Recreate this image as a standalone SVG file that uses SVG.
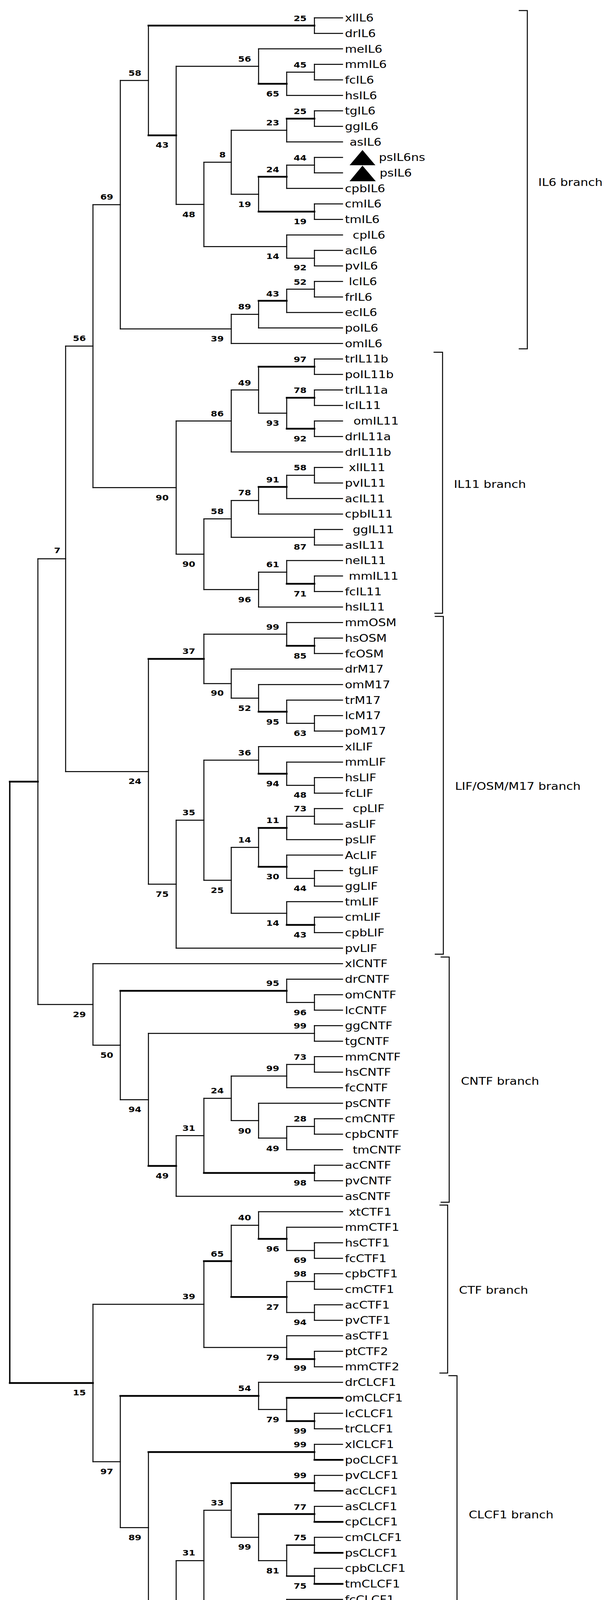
<svg xmlns="http://www.w3.org/2000/svg" width="1554" height="4266" viewBox="0 0 1554 4266">
<style>
.br{fill:none;stroke:#000;stroke-width:2.5;stroke-linecap:square}
.bt{fill:none;stroke:#000;stroke-width:4.5;stroke-linecap:square}
.bm{fill:none;stroke:#000;stroke-width:3.5;stroke-linecap:square}
.bk{fill:none;stroke:#000;stroke-width:2.5}
text{font-family:"DejaVu Sans",Verdana,sans-serif;fill:#000}
.lb{font-size:26px}
.bs{font-size:20px;font-weight:bold;text-anchor:end}
.cl{font-size:26px}
</style>
<rect width="1554" height="4266" fill="#fff"/>
<g id="connectors">
<path class="br" d="M805 45.7V85.4M805 164.8V204.5M734 184.65V244.2M662 125.1V214.4M805 283.8V323.5M734 303.65V363.2M805 402.9V442.6M734 422.75V482.3M805 522V561.7M662 452.5V541.85M592 333.4V497.2M805 641.1V680.8M734 601.4V660.95M522 415.3V631.2M451 169.75V523.25M380 65.55V346.5M805 720.5V760.2M734 740.35V799.9M662 770.1V839.5M592 804.8V879.2M308 206V842M238 524V1248.25M168 886.1V1975.15M97 1430.6V2571.4"/>
<path class="br" d="M805 45.7H877M805 85.4H877M662 125.1H877M805 164.8H877M805 204.5H877M734 244.2H877M805 283.8H877M805 323.5H877M734 363.2H877M805 402.9H877M805 442.6H877M734 482.3H877M805 522H877M805 561.7H877M734 601.4H877M805 641.1H877M805 680.8H877M805 720.5H877M805 760.2H877M734 799.9H877M662 839.5H877M592 879.2H877"/>
<path class="br" d="M734 184.65H805M451 169.75H662M592 333.4H734M734 422.75H805M592 497.2H662M522 415.3H592M734 660.95H805M522 631.2H734M451 523.25H522M308 206H380M734 740.35H805M592 804.8H662M308 842H592M238 524H308"/>
<path class="bt" d="M380 65.55H805M662 214.4H734M734 303.65H805M662 452.5H734M662 541.85H805M380 346.5H451M662 770.1H734"/>
<path class="br" d="M805 918.9V958.6M805 998.3V1038M805 1077.7V1117.4M734 1018.15V1097.55M662 938.75V1057.85M592 998.3V1157.1M805 1196.8V1236.5M734 1216.65V1276.2M662 1246.4V1315.9M805 1355.6V1395.3M592 1281.15V1375.45M805 1474.6V1514.3M734 1434.9V1494.45M662 1464.7V1554M522 1328.3V1509.35M451 1077.7V1418.8"/>
<path class="br" d="M805 918.9H877M805 958.6H877M805 998.3H877M805 1038H877M805 1077.7H877M805 1117.4H877M592 1157.1H877M805 1196.8H877M805 1236.5H877M734 1276.2H877M662 1315.9H877M805 1355.6H877M805 1395.3H877M734 1434.9H877M805 1474.6H877M805 1514.3H877M662 1554H877"/>
<path class="br" d="M662 1057.85H734M592 998.3H662M451 1077.7H592M734 1216.65H805M592 1281.15H662M592 1375.45H805M522 1328.3H592M662 1464.7H734M522 1509.35H662M451 1418.8H522M238 1248.25H451M168 886.1H238"/>
<path class="bt" d="M662 938.75H805M734 1018.15H805M734 1097.55H805M662 1246.4H734M734 1494.45H805"/>
<path class="br" d="M805 1633.4V1673.1M734 1593.7V1653.25M805 1831.9V1871.6M734 1792.2V1851.75M662 1752.5V1821.95M592 1712.8V1787.2M522 1623.5V1750M805 1990.7V2030.4M734 1951V2010.55M662 1911.3V1980.8M805 2070V2109.7M734 2089.85V2149.4M805 2228.8V2268.5M734 2189.1V2248.65M662 2119.6V2218.9M805 2347.9V2387.6M734 2308.2V2367.75M592 2169.25V2337.95M522 1946.05V2253.6M451 2099.8V2427.3M380 1686.75V2263.55"/>
<path class="br" d="M734 1593.7H877M805 1633.4H877M805 1673.1H877M592 1712.8H877M662 1752.5H877M734 1792.2H877M805 1831.9H877M805 1871.6H877M662 1911.3H877M734 1951H877M805 1990.7H877M805 2030.4H877M805 2070H877M805 2109.7H877M734 2149.4H877M734 2189.1H877M805 2228.8H877M805 2268.5H877M734 2308.2H877M805 2347.9H877M805 2387.6H877M451 2427.3H877"/>
<path class="br" d="M522 1623.5H734M734 1851.75H805M592 1787.2H662M522 1750H592M734 2010.55H805M522 1946.05H662M734 2089.85H805M734 2248.65H805M592 2169.25H662M592 2337.95H734M522 2253.6H592M451 2099.8H522M380 2263.55H451M168 1975.15H380M97 1430.6H168"/>
<path class="bt" d="M734 1653.25H805M662 1821.95H734M380 1686.75H522M662 1980.8H734M662 2119.6H734M662 2218.9H734M734 2367.75H805M25 2001H97"/>
<path class="br" d="M805 2546.4V2586.1M734 2506.7V2566.25M805 2625.8V2665.4M805 2705.1V2744.8M734 2724.95V2784.5M805 2863.9V2903.6M734 2883.75V2943.3M662 2824.2V2913.5M592 2754.7V2868.85M805 2983V3022.7M522 2811.8V3002.85M451 2907.3V3062.4M380 2645.6V2984.85M308 2536.5V2815.2M238 2467V2675.85"/>
<path class="br" d="M238 2467H877M734 2506.7H877M805 2546.4H877M805 2586.1H877M805 2625.8H877M805 2665.4H877M805 2705.1H877M805 2744.8H877M734 2784.5H877M662 2824.2H877M805 2863.9H877M805 2903.6H877M734 2943.3H877M805 2983H877M805 3022.7H877M451 3062.4H877"/>
<path class="br" d="M734 2566.25H805M380 2645.6H805M734 2724.95H805M592 2754.7H734M734 2883.75H805M662 2913.5H734M592 2868.85H662M522 2811.8H592M451 2907.3H522M308 2815.2H380M238 2675.85H308M97 2571.4H238"/>
<path class="bt" d="M308 2536.5H734M522 3002.85H805M380 2984.85H451"/>
<path class="br" d="M805 3181.5V3221.2M734 3141.8V3201.35M662 3102.1V3171.6M805 3260.8V3300.5M805 3340.2V3379.9M734 3280.65V3360.05M592 3136.85V3320.35M805 3459.3V3499M734 3419.6V3479.15M522 3228.6V3449.4M238 3339V3742.1"/>
<path class="br" d="M662 3102.1H877M734 3141.8H877M805 3181.5H877M805 3221.2H877M805 3260.8H877M805 3300.5H877M805 3340.2H877M805 3379.9H877M734 3419.6H877M805 3459.3H877M805 3499H877"/>
<path class="br" d="M734 3201.35H805M592 3136.85H662M734 3280.65H805M734 3360.05H805M522 3449.4H734M238 3339H522"/>
<path class="bt" d="M662 3171.6H734M592 3320.35H734M522 3228.6H592M734 3479.15H805M25 3540.55H238"/>
<path class="br" d="M805 3618.1V3657.8M734 3578.4V3637.95M662 3538.7V3608.2M805 3697.5V3737.2M805 3776.9V3816.5M805 3856.2V3895.9M805 3935.6V3975.3M805 4015V4054.7M734 3955.45V4034.85M662 3876.05V3995.15M592 3796.7V3935.6M805 4134.1V4173.8M734 4094.4V4153.95M522 3866.15V4124.15M451 3995.15V4213.5M380 3717.35V4104.3M308 3573.45V3910.8"/>
<path class="br" d="M662 3538.7H877M805 3618.1H877M805 3657.8H877M805 3697.5H877M805 3776.9H877M805 3856.2H877M805 3935.6H877M805 4015H877M734 4094.4H877M805 4173.8H877"/>
<path class="bt" d="M734 3578.4H877M805 3737.2H877M805 3895.9H877M805 3975.3H877M805 4054.7H877M805 4134.1H877M451 4213.5H877"/>
<path class="bm" d="M805 3816.5H877M734 3955.45H805M734 4034.85H805"/>
<path class="br" d="M662 3608.2H734M662 3995.15H734M592 3935.6H662M522 3866.15H592M734 4153.95H805M451 3995.15H522M380 4104.3H451M308 3910.8H380M238 3742.1H308"/>
<path class="bt" d="M734 3637.95H805M308 3573.45H662M380 3717.35H805M592 3796.7H805M662 3876.05H805M522 4124.15H734"/>
<path class="bm" d="M25 2001V3540.55"/>
</g>
<g id="brackets">
<path class="bk" d="M1328 27H1350V893H1328"/>
<path class="bk" d="M1110 901.7H1133V1570H1112"/>
<path class="bk" d="M1113 1578H1135V2442.7H1113"/>
<path class="bk" d="M1128 2450H1150V3077.7H1128"/>
<path class="bk" d="M1125 3085H1146V3515H1125"/>
<path class="bk" d="M1148 3521.7H1170V4230H1148"/>
</g>
<g id="markers">
<polygon points="928,384 895,423 961,423" fill="#000"/>
<polygon points="928,424 895,464 962,464" fill="#000"/>
</g>
<g transform="scale(1.2,1)">
<g id="leaves" class="lb">
<g id="leaf-xlIL6"><text x="735.8" y="55.2">xlIL6</text></g>
<g id="leaf-drIL6"><text x="735.8" y="94.9">drIL6</text></g>
<g id="leaf-meIL6"><text x="735.8" y="134.6">meIL6</text></g>
<g id="leaf-mmIL6"><text x="735.8" y="174.3">mmIL6</text></g>
<g id="leaf-fcIL6"><text x="735.8" y="214">fcIL6</text></g>
<g id="leaf-hsIL6"><text x="735.8" y="253.7">hsIL6</text></g>
<g id="leaf-tgIL6"><text x="735.8" y="293.3">tgIL6</text></g>
<g id="leaf-ggIL6"><text x="735.8" y="333">ggIL6</text></g>
<g id="leaf-asIL6"><text x="745.8" y="372.7">asIL6</text></g>
<g id="leaf-psIL6ns"><text x="808.3" y="412.4">psIL6ns</text></g>
<g id="leaf-psIL6"><text x="810" y="452.1">psIL6</text></g>
<g id="leaf-cpbIL6"><text x="735.8" y="491.8">cpbIL6</text></g>
<g id="leaf-cmIL6"><text x="735.8" y="531.5">cmIL6</text></g>
<g id="leaf-tmIL6"><text x="735.8" y="571.2">tmIL6</text></g>
<g id="leaf-cpIL6"><text x="752.5" y="610.9">cpIL6</text></g>
<g id="leaf-acIL6"><text x="735.8" y="650.6">acIL6</text></g>
<g id="leaf-pvIL6"><text x="735.8" y="690.3">pvIL6</text></g>
<g id="leaf-lcIL6"><text x="744.2" y="730">lcIL6</text></g>
<g id="leaf-frIL6"><text x="735.8" y="769.7">frIL6</text></g>
<g id="leaf-ecIL6"><text x="735.8" y="809.4">ecIL6</text></g>
<g id="leaf-poIL6"><text x="735.8" y="849">poIL6</text></g>
<g id="leaf-omIL6"><text x="735.8" y="888.7">omIL6</text></g>
<g id="leaf-trIL11b"><text x="735.8" y="928.4">trIL11b</text></g>
<g id="leaf-poIL11b"><text x="735.8" y="968.1">poIL11b</text></g>
<g id="leaf-trIL11a"><text x="735.8" y="1007.8">trIL11a</text></g>
<g id="leaf-lcIL11"><text x="735.8" y="1047.5">lcIL11</text></g>
<g id="leaf-omIL11"><text x="754.2" y="1087.2">omIL11</text></g>
<g id="leaf-drIL11a"><text x="735.8" y="1126.9">drIL11a</text></g>
<g id="leaf-drIL11b"><text x="735.8" y="1166.6">drIL11b</text></g>
<g id="leaf-xlIL11"><text x="744.2" y="1206.3">xlIL11</text></g>
<g id="leaf-pvIL11"><text x="735.8" y="1246">pvIL11</text></g>
<g id="leaf-acIL11"><text x="735.8" y="1285.7">acIL11</text></g>
<g id="leaf-cpbIL11"><text x="735.8" y="1325.4">cpbIL11</text></g>
<g id="leaf-ggIL11"><text x="752.5" y="1365.1">ggIL11</text></g>
<g id="leaf-asIL11"><text x="735.8" y="1404.8">asIL11</text></g>
<g id="leaf-neIL11"><text x="735.8" y="1444.4">neIL11</text></g>
<g id="leaf-mmIL11"><text x="744.2" y="1484.1">mmIL11</text></g>
<g id="leaf-fcIL11"><text x="735.8" y="1523.8">fcIL11</text></g>
<g id="leaf-hsIL11"><text x="735.8" y="1563.5">hsIL11</text></g>
<g id="leaf-mmOSM"><text x="735.8" y="1603.2">mmOSM</text></g>
<g id="leaf-hsOSM"><text x="735.8" y="1642.9">hsOSM</text></g>
<g id="leaf-fcOSM"><text x="735.8" y="1682.6">fcOSM</text></g>
<g id="leaf-drM17"><text x="735.8" y="1722.3">drM17</text></g>
<g id="leaf-omM17"><text x="735.8" y="1762">omM17</text></g>
<g id="leaf-trM17"><text x="735.8" y="1801.7">trM17</text></g>
<g id="leaf-lcM17"><text x="735.8" y="1841.4">lcM17</text></g>
<g id="leaf-poM17"><text x="735.8" y="1881.1">poM17</text></g>
<g id="leaf-xlLIF"><text x="735.8" y="1920.8">xlLIF</text></g>
<g id="leaf-mmLIF"><text x="735.8" y="1960.5">mmLIF</text></g>
<g id="leaf-hsLIF"><text x="735.8" y="2000.2">hsLIF</text></g>
<g id="leaf-fcLIF"><text x="735.8" y="2039.9">fcLIF</text></g>
<g id="leaf-cpLIF"><text x="752.5" y="2079.5">cpLIF</text></g>
<g id="leaf-asLIF"><text x="735.8" y="2119.2">asLIF</text></g>
<g id="leaf-psLIF"><text x="735.8" y="2158.9">psLIF</text></g>
<g id="leaf-AcLIF"><text x="735.8" y="2198.6">AcLIF</text></g>
<g id="leaf-tgLIF"><text x="744.2" y="2238.3">tgLIF</text></g>
<g id="leaf-ggLIF"><text x="735.8" y="2278">ggLIF</text></g>
<g id="leaf-tmLIF"><text x="735.8" y="2317.7">tmLIF</text></g>
<g id="leaf-cmLIF"><text x="735.8" y="2357.4">cmLIF</text></g>
<g id="leaf-cpbLIF"><text x="735.8" y="2397.1">cpbLIF</text></g>
<g id="leaf-pvLIF"><text x="735.8" y="2436.8">pvLIF</text></g>
<g id="leaf-xlCNTF"><text x="735.8" y="2476.5">xlCNTF</text></g>
<g id="leaf-drCNTF"><text x="735.8" y="2516.2">drCNTF</text></g>
<g id="leaf-omCNTF"><text x="735.8" y="2555.9">omCNTF</text></g>
<g id="leaf-lcCNTF"><text x="735.8" y="2595.6">lcCNTF</text></g>
<g id="leaf-ggCNTF"><text x="735.8" y="2635.3">ggCNTF</text></g>
<g id="leaf-tgCNTF"><text x="735.8" y="2674.9">tgCNTF</text></g>
<g id="leaf-mmCNTF"><text x="735.8" y="2714.6">mmCNTF</text></g>
<g id="leaf-hsCNTF"><text x="735.8" y="2754.3">hsCNTF</text></g>
<g id="leaf-fcCNTF"><text x="735.8" y="2794">fcCNTF</text></g>
<g id="leaf-psCNTF"><text x="735.8" y="2833.7">psCNTF</text></g>
<g id="leaf-cmCNTF"><text x="735.8" y="2873.4">cmCNTF</text></g>
<g id="leaf-cpbCNTF"><text x="735.8" y="2913.1">cpbCNTF</text></g>
<g id="leaf-tmCNTF"><text x="752.5" y="2952.8">tmCNTF</text></g>
<g id="leaf-acCNTF"><text x="735.8" y="2992.5">acCNTF</text></g>
<g id="leaf-pvCNTF"><text x="735.8" y="3032.2">pvCNTF</text></g>
<g id="leaf-asCNTF"><text x="735.8" y="3071.9">asCNTF</text></g>
<g id="leaf-xtCTF1"><text x="744.2" y="3111.6">xtCTF1</text></g>
<g id="leaf-mmCTF1"><text x="735.8" y="3151.3">mmCTF1</text></g>
<g id="leaf-hsCTF1"><text x="735.8" y="3191">hsCTF1</text></g>
<g id="leaf-fcCTF1"><text x="735.8" y="3230.7">fcCTF1</text></g>
<g id="leaf-cpbCTF1"><text x="735.8" y="3270.3">cpbCTF1</text></g>
<g id="leaf-cmCTF1"><text x="735.8" y="3310">cmCTF1</text></g>
<g id="leaf-acCTF1"><text x="735.8" y="3349.7">acCTF1</text></g>
<g id="leaf-pvCTF1"><text x="735.8" y="3389.4">pvCTF1</text></g>
<g id="leaf-asCTF1"><text x="735.8" y="3429.1">asCTF1</text></g>
<g id="leaf-ptCTF2"><text x="735.8" y="3468.8">ptCTF2</text></g>
<g id="leaf-mmCTF2"><text x="735.8" y="3508.5">mmCTF2</text></g>
<g id="leaf-drCLCF1"><text x="735.8" y="3548.2">drCLCF1</text></g>
<g id="leaf-omCLCF1"><text x="735.8" y="3587.9">omCLCF1</text></g>
<g id="leaf-lcCLCF1"><text x="735.8" y="3627.6">lcCLCF1</text></g>
<g id="leaf-trCLCF1"><text x="735.8" y="3667.3">trCLCF1</text></g>
<g id="leaf-xlCLCF1"><text x="735.8" y="3707">xlCLCF1</text></g>
<g id="leaf-poCLCF1"><text x="735.8" y="3746.7">poCLCF1</text></g>
<g id="leaf-pvCLCF1"><text x="735.8" y="3786.4">pvCLCF1</text></g>
<g id="leaf-acCLCF1"><text x="735.8" y="3826">acCLCF1</text></g>
<g id="leaf-asCLCF1"><text x="735.8" y="3865.7">asCLCF1</text></g>
<g id="leaf-cpCLCF1"><text x="735.8" y="3905.4">cpCLCF1</text></g>
<g id="leaf-cmCLCF1"><text x="735.8" y="3945.1">cmCLCF1</text></g>
<g id="leaf-psCLCF1"><text x="735.8" y="3984.8">psCLCF1</text></g>
<g id="leaf-cpbCLCF1"><text x="735.8" y="4024.5">cpbCLCF1</text></g>
<g id="leaf-tmCLCF1"><text x="735.8" y="4064.2">tmCLCF1</text></g>
<g id="leaf-fcCLCF1"><text x="735.8" y="4103.9">fcCLCF1</text></g>
<g id="leaf-hsCLCF1"><text x="735.8" y="4143.6">hsCLCF1</text></g>
<g id="leaf-mmCLCF1"><text x="735.8" y="4183.3">mmCLCF1</text></g>
<g id="leaf-ggCLCF1"><text x="735.8" y="4223">ggCLCF1</text></g>
</g>
<g id="bootstrap" class="bs">
<g id="bs-il6"><text x="654.2" y="54">25</text><text x="301.7" y="194">58</text><text x="535.8" y="158.3">56</text><text x="654.2" y="173">45</text><text x="595.8" y="247.3">65</text><text x="360" y="378">43</text><text x="654.2" y="292.3">25</text><text x="595.8" y="320.6">23</text><text x="481.7" y="403">8</text><text x="654.2" y="410.6">44</text><text x="595.8" y="440.6">24</text><text x="241.7" y="510.6">69</text><text x="535.8" y="529.6">19</text><text x="416.7" y="555.6">48</text><text x="654.2" y="574">19</text><text x="595.8" y="663.3">14</text><text x="654.2" y="692.3">92</text><text x="654.2" y="729">52</text><text x="595.8" y="759">43</text><text x="535.8" y="792.3">89</text><text x="477.5" y="874">39</text><text x="183.3" y="873">56</text></g>
<g id="bs-il11"><text x="654.2" y="927.3">97</text><text x="535.8" y="986.6">49</text><text x="654.2" y="1006.3">78</text><text x="477.5" y="1065.6">86</text><text x="595.8" y="1089.6">93</text><text x="654.2" y="1130">92</text><text x="654.2" y="1204">58</text><text x="595.8" y="1235">91</text><text x="535.8" y="1268.3">78</text><text x="360" y="1281.3">90</text><text x="477.5" y="1315.6">58</text><text x="654.2" y="1407.3">87</text><text x="129.2" y="1415.6">7</text><text x="416.7" y="1450.6">90</text><text x="595.8" y="1452.3">61</text><text x="654.2" y="1526.6">71</text><text x="535.8" y="1542.3">96</text></g>
<g id="bs-lif"><text x="595.8" y="1611.6">99</text><text x="416.7" y="1674">37</text><text x="654.2" y="1685.6">85</text><text x="477.5" y="1781.3">90</text><text x="535.8" y="1819.6">52</text><text x="595.8" y="1854.6">95</text><text x="654.2" y="1884">63</text><text x="535.8" y="1934">36</text><text x="301.7" y="2006.6">24</text><text x="595.8" y="2013.3">94</text><text x="654.2" y="2042.3">48</text><text x="654.2" y="2076.6">73</text><text x="416.7" y="2087.3">35</text><text x="595.8" y="2107.3">11</text><text x="535.8" y="2157.3">14</text><text x="595.8" y="2251.3">30</text><text x="654.2" y="2280.6">44</text><text x="477.5" y="2285.6">25</text><text x="360" y="2295.6">75</text><text x="595.8" y="2370">14</text><text x="654.2" y="2399.6">43</text></g>
<g id="bs-cntf"><text x="595.8" y="2524">95</text><text x="654.2" y="2599">96</text><text x="183.3" y="2604">29</text><text x="654.2" y="2633.3">99</text><text x="241.7" y="2708">50</text><text x="654.2" y="2713.3">73</text><text x="595.8" y="2742.3">99</text><text x="477.5" y="2799">24</text><text x="301.7" y="2846.6">94</text><text x="654.2" y="2871.3">28</text><text x="416.7" y="2894.6">31</text><text x="535.8" y="2901.6">90</text><text x="595.8" y="2946.6">49</text><text x="360" y="3017.3">49</text><text x="654.2" y="3035">98</text></g>
<g id="bs-ctf"><text x="535.8" y="3124">40</text><text x="595.8" y="3204">96</text><text x="477.5" y="3216.6">65</text><text x="654.2" y="3233.3">69</text><text x="654.2" y="3268.3">98</text><text x="416.7" y="3325.6">39</text><text x="595.8" y="3353.3">27</text><text x="654.2" y="3392.3">94</text><text x="595.8" y="3482.3">79</text><text x="654.2" y="3509">99</text></g>
<g id="bs-clcf1"><text x="535.8" y="3560.6">54</text><text x="183.3" y="3572.3">15</text><text x="595.8" y="3640.6">79</text><text x="654.2" y="3669.6">99</text><text x="654.2" y="3704.6">99</text><text x="241.7" y="3774">97</text><text x="654.2" y="3784">99</text><text x="477.5" y="3854">33</text><text x="654.2" y="3864.6">77</text><text x="301.7" y="3943.3">89</text><text x="654.2" y="3943.3">75</text><text x="535.8" y="3967.3">99</text><text x="416.7" y="3982.3">31</text><text x="595.8" y="4028">81</text><text x="654.2" y="4066.6">75</text><text x="360" y="4137.3">57</text><text x="595.8" y="4155.6">99</text><text x="654.2" y="4185.6">75</text></g>
</g>
<g id="clades" class="cl">
<g id="clade-il6"><text x="1148.3" y="476">IL6 branch</text></g>
<g id="clade-il11"><text x="968.3" y="1249">IL11 branch</text></g>
<g id="clade-lif"><text x="970.8" y="2022">LIF/OSM/M17 branch</text></g>
<g id="clade-cntf"><text x="983.3" y="2777">CNTF branch</text></g>
<g id="clade-ctf"><text x="979.2" y="3312">CTF branch</text></g>
<g id="clade-clcf1"><text x="1000" y="3887">CLCF1 branch</text></g>
</g>
</g>
</svg>
